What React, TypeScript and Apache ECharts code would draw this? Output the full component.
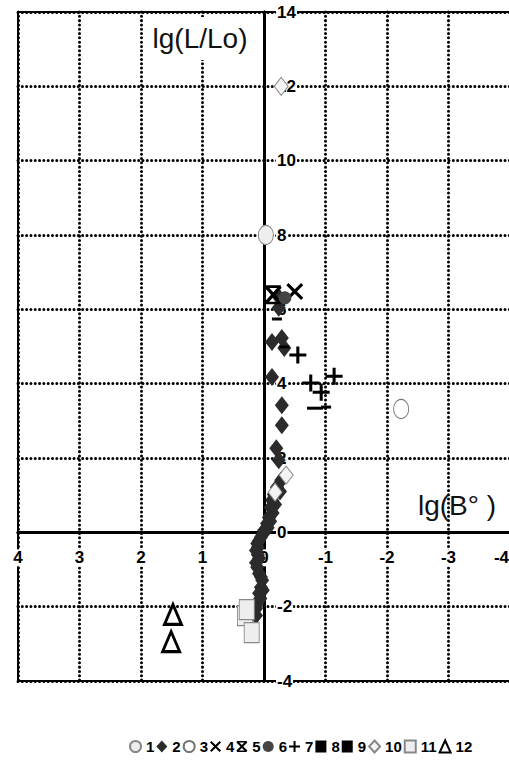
import React, { useEffect, useRef } from "react";
import * as echarts from "echarts";

// series data: [lg(B°), lg(L/Lo)]
const s1 = [[-0.03, 8.0]];
const s2 = [
  [-0.24, 6.33], [-0.24, 6.04], [-0.13, 5.12], [-0.29, 5.23], [-0.33, 4.96],
  [-0.13, 4.18], [-0.29, 3.42], [-0.29, 2.88], [-0.2, 2.26], [-0.24, 1.94],
  [-0.28, 1.4], [-0.21, 1.21], [-0.26, 1.1], [-0.16, 1.02], [-0.13, 0.86],
  [-0.18, 0.75], [-0.11, 0.67], [-0.14, 0.52], [-0.08, 0.4], [-0.1, 0.3],
  [-0.05, 0.24], [-0.06, 0.12], [0.0, 0.05], [0.02, -0.05], [0.05, -0.13],
  [0.08, -0.22], [0.11, -0.3], [0.1, -0.4], [0.13, -0.49], [0.1, -0.6],
  [0.08, -0.7], [0.13, -0.82], [0.11, -0.94], [0.08, -1.11], [0.05, -1.2],
  [0.03, -1.29], [0.05, -1.48], [0.02, -1.56], [0.08, -1.64], [0.06, -1.78],
  [0.11, -1.91], [0.13, -2.05], [0.13, -2.24],
];
const s3 = [[-2.23, 3.32]];
const s4 = [[-0.5, 6.48]];
const s5 = [[-0.15, 6.39]];
const s6 = [[-0.34, 6.31]];
const s7 = [[-0.55, 4.77], [-0.76, 4.02], [-0.93, 3.77], [-1.14, 4.2]];
const s8 = [[-1.01, 3.37], [-0.21, 5.74], [-0.33, 4.99]];
const s9 = [[-0.83, 3.34]];
const s10 = [[-0.28, 12.0], [-0.36, 1.54], [-0.18, 1.08]];
const s11 = [[0.31, -2.24], [0.28, -2.08], [0.2, -2.7]];
const s12 = [[1.48, -2.21], [1.51, -2.94]];

const seriesNames = ["1", "2", "3", "4", "5", "6", "7", "8", "9", "10", "11", "12"];

const FONT = '"Liberation Sans", Arial, sans-serif';

const X_PATH =
  "path://M0,1.3L1.3,0L5,3.7L8.7,0L10,1.3L6.3,5L10,8.7L8.7,10L5,6.3L1.3,10L0,8.7L3.7,5Z";
const X5_PATH =
  "path://M0,1.3L1.3,0L5,3.7L8.7,0L10,1.3L6.3,5L10,8.7L8.7,10L5,6.3L1.3,10L0,8.7L3.7,5Z M0.5,0H9.5V1.4H0.5Z M0.5,8.6H9.5V10H0.5Z";
const PLUS_PATH = "path://M4.1,0H5.9V4.1H10V5.9H5.9V10H4.1V5.9H0V4.1H4.1Z";

// grid geometry (pixels)
const G_LEFT = 18;
const G_TOP = 12;
const G_RIGHT = -1;
const G_BOTTOM = 83;
const W = 509;
const H = 764;

export default function App() {
  const ref = useRef<HTMLDivElement>(null);

  useEffect(() => {
    if (!ref.current) return;
    const chart = echarts.init(ref.current, undefined, { renderer: "svg" });
    const dotted = { color: "#000", width: 3, type: [0.01, 4.3] as any, cap: "round" as any };
    const mk = (name: string, data: number[][], symbol: string, size: any, itemStyle: any, z = 3) => ({
      name,
      type: "scatter",
      data,
      symbol,
      symbolSize: size,
      itemStyle: { opacity: 1, ...itemStyle },
      z,
    });
    const gw = W - G_LEFT - G_RIGHT;
    const gh = H - G_TOP - G_BOTTOM;
    const xMin = -4, xMax = 4, yMin = -4, yMax = 14;
    const zeroXFromLeft = ((xMax - 0) / (xMax - xMin)) * gw;
    const zeroYFromBottom = ((0 - yMin) / (yMax - yMin)) * gh;
    const labelStyle = {
      color: "#000",
      fontWeight: "bold",
      fontSize: 17,
      fontFamily: FONT,
      backgroundColor: "#fff",
      padding: [0, 1],
      showMinLabel: true,
      showMaxLabel: true,
    };
    chart.setOption({
      animation: false,
      backgroundColor: "#fff",
      textStyle: { fontFamily: FONT },
      grid: {
        left: G_LEFT,
        top: G_TOP,
        right: G_RIGHT,
        bottom: G_BOTTOM,
        outerBoundsMode: "none",
        containLabel: false,
        show: true,
        borderColor: "#000",
        borderWidth: 2,
        backgroundColor: "transparent",
      },
      xAxis: {
        type: "value",
        min: xMin,
        max: xMax,
        interval: 1,
        inverse: true,
        position: "bottom",
        offset: -zeroYFromBottom,
        axisLine: { onZero: false, lineStyle: { color: "#000", width: 3 } },
        axisTick: { show: false },
        axisLabel: { ...labelStyle, margin: 17, alignMinLabel: "right" },
        splitLine: { show: true, lineStyle: dotted },
      },
      yAxis: {
        type: "value",
        min: yMin,
        max: yMax,
        interval: 2,
        position: "left",
        offset: -zeroXFromLeft,
        axisLine: { onZero: false, lineStyle: { color: "#000", width: 3 } },
        axisTick: { show: false },
        axisLabel: { ...labelStyle, inside: true, margin: 12 },
        splitLine: { show: true, lineStyle: dotted },
      },
      legend: {
        left: 124,
        top: 734,
        itemWidth: 11,
        itemHeight: 12,
        itemGap: 2,
        data: seriesNames,
        textStyle: { fontFamily: FONT, fontWeight: "bold", fontSize: 15, color: "#000" },
      },
      graphic: [
        {
          type: "rect",
          shape: { x: 150, y: 17, width: 100, height: 43 },
          style: { fill: "#fff" },
          z: 9,
        },
        {
          type: "text",
          x: 200,
          y: 38,
          style: {
            text: "lg(L/Lo)",
            fontFamily: FONT,
            fontSize: 28,
            fill: "#111",
            align: "center",
            verticalAlign: "middle",
          },
          z: 10,
        },
        {
          type: "text",
          x: 418,
          y: 505,
          style: {
            text: "lg(B° )",
            fontFamily: FONT,
            fontSize: 28,
            fill: "#111",
            align: "left",
            verticalAlign: "middle",
          },
          z: 10,
        },
      ],
      series: [
        mk("1", s1, "circle", [15, 19], { color: "#eeeeee", borderColor: "#888", borderWidth: 1 }),
        mk("2", s2, "diamond", [14, 18], { color: "#2b2b2b" }),
        mk("3", s3, "circle", [15, 19], { color: "#ffffff", borderColor: "#777", borderWidth: 1 }),
        mk("4", s4, X_PATH, [17, 17], { color: "#000" }),
        mk("5", s5, X5_PATH, [17, 19], { color: "#000" }),
        mk("6", s6, "circle", [13, 13], { color: "#444" }),
        mk("7", s7, PLUS_PATH, [17, 17], { color: "#000" }),
        mk("8", s8, "rect", [10, 3], { color: "#000" }),
        mk("9", s9, "rect", [16, 3], { color: "#000" }),
        mk("10", s10, "diamond", [14, 18], { color: "#f4f4f4", borderColor: "#888", borderWidth: 1 }),
        mk("11", s11, "rect", [15, 20], { color: "#eeeeee", borderColor: "#888", borderWidth: 1 }),
        mk("12", s12, "triangle", [17, 20], { color: "#fff", borderColor: "#000", borderWidth: 3 }),
      ],
    });
    return () => chart.dispose();
  }, []);

  return (
    <div
      ref={ref}
      style={{ position: "fixed", left: 0, top: 0, width: W, height: H, background: "#fff" }}
    />
  );
}
